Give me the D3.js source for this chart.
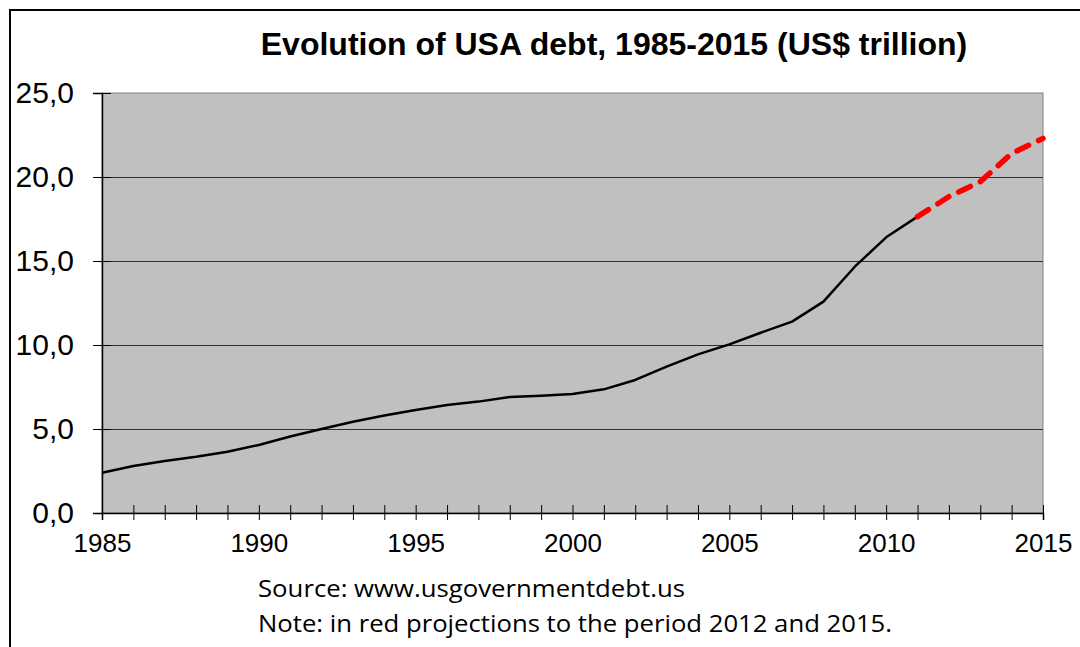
<!DOCTYPE html>
<html>
<head>
<meta charset="utf-8">
<script src="https://cdn.jsdelivr.net/npm/d3@7"></script>
<style>
  html, body { margin: 0; padding: 0; background: #fff; }
  svg { display: block; }
</style>
</head>
<body>
<script>
// US federal debt, trillions of dollars
const years = [1985, 1986, 1987, 1988, 1989, 1990, 1991, 1992, 1993, 1994, 1995,
               1996, 1997, 1998, 1999, 2000, 2001, 2002, 2003, 2004, 2005,
               2006, 2007, 2008, 2009, 2010, 2011];
const debt = [2.40, 2.80, 3.10, 3.35, 3.65, 4.05, 4.55, 5.00, 5.43, 5.80, 6.13,
              6.43, 6.63, 6.90, 6.98, 7.08, 7.36, 7.92, 8.71, 9.44, 10.04,
              10.73, 11.39, 12.58, 14.66, 16.41, 17.64];
// Projected values (joined to the last actual year)
const projYears = [2011, 2012, 2013, 2014, 2015];
const projDebt = [17.64, 18.83, 19.72, 21.40, 22.30];

const yTicks = [0, 5, 10, 15, 20, 25];
const xLabelYears = [1985, 1990, 1995, 2000, 2005, 2010, 2015];
const allYears = d3.range(1985, 2016);

const titleText = "Evolution of USA debt, 1985-2015 (US$ trillion)";
const notes = ["Source: www.usgovernmentdebt.us",
               "Note: in red projections to the period 2012 and 2015."];

const W = 1080, H = 647;
const plot = { left: 102, right: 1043, top: 93, bottom: 513 };

const svg = d3.select("body").append("svg")
  .attr("width", W).attr("height", H);

// Outer chart frame (left and top edges visible)
svg.append("path")
  .attr("d", `M10,${H} L10,10 L${W},10`)
  .attr("fill", "none").attr("stroke", "#000").attr("stroke-width", 2);

const x = d3.scaleLinear().domain([1985, 2015]).range([plot.left, plot.right]);
const y = d3.scaleLinear().domain([0, 25]).range([plot.bottom, plot.top]);

// Plot background
svg.append("rect")
  .attr("x", plot.left).attr("y", plot.top)
  .attr("width", plot.right - plot.left).attr("height", plot.bottom - plot.top)
  .attr("fill", "#c0c0c0").attr("stroke", "#808080").attr("stroke-width", 1);

// Horizontal gridlines
svg.append("g").selectAll("line")
  .data(yTicks.filter(v => v > 0 && v < 25))
  .join("line")
  .attr("x1", plot.left).attr("x2", plot.right)
  .attr("y1", d => y(d) + 0.5).attr("y2", d => y(d) + 0.5)
  .attr("stroke", "#303030").attr("stroke-width", 1);

// Y axis
const yAxis = svg.append("g")
  .attr("transform", `translate(${plot.left},0)`)
  .call(d3.axisLeft(y).tickValues(yTicks).tickSize(9).tickPadding(20)
        .tickFormat(d => d3.format(".1f")(d).replace(".", ",")));
yAxis.select(".domain").attr("stroke", "#000").attr("stroke-width", 1.5);
yAxis.selectAll(".tick line").attr("x2", 9).attr("x1", -9).attr("stroke", "#000");
yAxis.selectAll(".tick text")
  .attr("x", -28)
  .attr("font-family", "'Liberation Sans', Arial, sans-serif")
  .attr("font-size", 30).attr("fill", "#000");

// X axis
const xAxis = svg.append("g")
  .attr("transform", `translate(0,${plot.bottom})`)
  .call(d3.axisBottom(x).tickValues(allYears).tickSize(7)
        .tickFormat(d => xLabelYears.includes(d) ? String(d) : ""));
xAxis.select(".domain").attr("stroke", "#000").attr("stroke-width", 1.5);
xAxis.selectAll(".tick line").attr("y1", -8).attr("y2", 7).attr("stroke", "#000");
xAxis.selectAll(".tick text")
  .attr("y", 21)
  .attr("font-family", "'Liberation Sans', Arial, sans-serif")
  .attr("font-size", 26).attr("fill", "#000");

// Actual debt line
const line = d3.line().x(d => x(d[0])).y(d => y(d[1]));
svg.append("path")
  .datum(years.map((yr, i) => [yr, debt[i]]))
  .attr("d", line)
  .attr("fill", "none").attr("stroke", "#000").attr("stroke-width", 2.5)
  .attr("stroke-linejoin", "round");

// Projection line
svg.append("path")
  .datum(projYears.map((yr, i) => [yr, projDebt[i]]))
  .attr("d", line)
  .attr("fill", "none").attr("stroke", "#ff0000").attr("stroke-width", 5.5)
  .attr("stroke-dasharray", "13,11").attr("stroke-linecap", "round")
  .attr("stroke-linejoin", "round");

// Title
svg.append("text")
  .attr("x", 614).attr("y", 55)
  .attr("text-anchor", "middle")
  .attr("font-family", "'Liberation Sans', Arial, sans-serif")
  .attr("font-weight", "bold").attr("font-size", 32)
  .text(titleText);

// Footnotes
const noteWidths = [427, 634];
svg.append("g").selectAll("text")
  .data(notes)
  .join("text")
  .attr("x", 258)
  .attr("y", (d, i) => 597 + i * 34.5)
  .attr("font-family", "'Open Sans', sans-serif")
  .attr("font-size", 24).attr("fill", "#000")
  .attr("textLength", (d, i) => noteWidths[i])
  .attr("lengthAdjust", "spacingAndGlyphs")
  .text(d => d);
</script>
</body>
</html>
